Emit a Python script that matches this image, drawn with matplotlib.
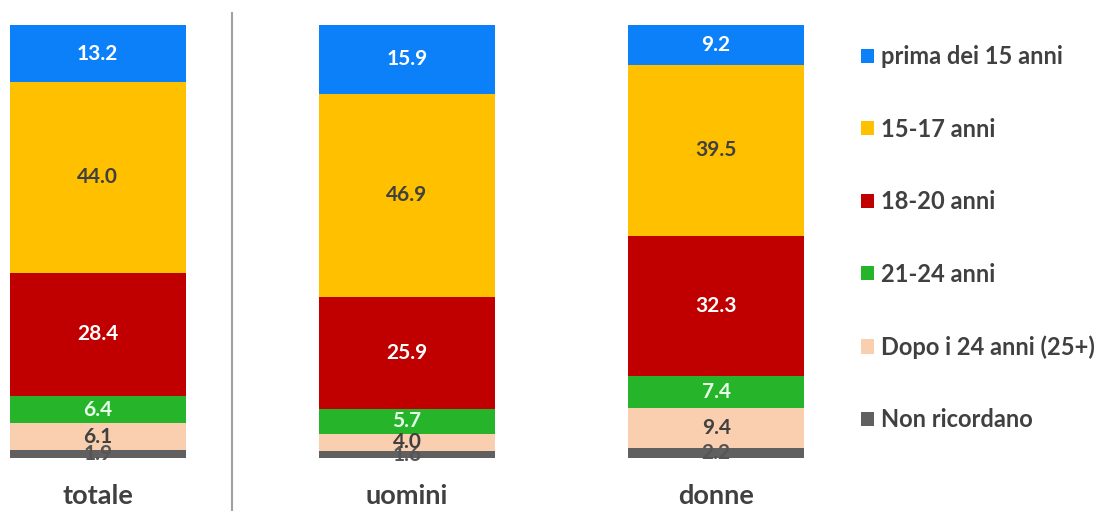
"""Stacked bars: age at first experience, total vs men vs women."""
import matplotlib.pyplot as plt
import numpy as np

plt.rcParams['font.family'] = ['Lato', 'DejaVu Sans']

groups = ['totale', 'uomini', 'donne']

# stacking order, bottom to top
series = ['Non ricordano', 'Dopo i 24 anni (25+)', '21-24 anni',
          '18-20 anni', '15-17 anni', 'prima dei 15 anni']
values = {
    'Non ricordano': [1.9, 1.6, 2.2],
    'Dopo i 24 anni (25+)': [6.1, 4.0, 9.4],
    '21-24 anni': [6.4, 5.7, 7.4],
    '18-20 anni': [28.4, 25.9, 32.3],
    '15-17 anni': [44.0, 46.9, 39.5],
    'prima dei 15 anni': [13.2, 15.9, 9.2],
}
colors = {
    'Non ricordano': '#606060',
    'Dopo i 24 anni (25+)': '#F9CFAF',
    '21-24 anni': '#25B42A',
    '18-20 anni': '#C00000',
    '15-17 anni': '#FFC000',
    'prima dei 15 anni': '#0C80F8',
}
text_colors = {
    'Non ricordano': '#555555',
    'Dopo i 24 anni (25+)': '#404040',
    '21-24 anni': '#E8FFE8',
    '18-20 anni': 'white',
    '15-17 anni': '#404040',
    'prima dei 15 anni': 'white',
}

fig = plt.figure(figsize=(11.18, 5.11), dpi=100)
ax = fig.add_axes([0.00447, 0.1037, 0.7191, 0.8474])

x = np.arange(len(groups))
bottom = np.zeros(len(groups))
handles = {}
for name in series:
    vals = np.array(values[name])
    bars = ax.bar(x, vals, width=0.568, bottom=bottom, color=colors[name],
                  linewidth=0)
    handles[name] = bars
    for xi, b, v in zip(x, bottom, vals):
        ax.text(xi, b + v / 2, f'{v:.1f}', ha='center', va='center',
                fontsize=15, fontweight='bold', color=text_colors[name])
    bottom += vals

ax.set_xlim(-0.3, 2.3)
ax.set_ylim(0, 100)
ax.set_yticks([])
ax.set_xticks(x)
ax.set_xticklabels(groups, fontsize=19.5, fontweight='bold', color='#404040')
ax.tick_params(axis='x', length=0, pad=19)
for s in ax.spines.values():
    s.set_visible(False)

# divider between the total and the two sexes
ax.plot([0.435, 0.435], [-12.5, 102.8], color='#A0A0A0', lw=1.5,
        clip_on=False)

order = series[::-1]
fig.legend([handles[n] for n in order], order, loc='upper left',
           bbox_to_anchor=(0.770, 0.912), frameon=False,
           prop={'size': 17, 'weight': 'bold'}, labelcolor='#404040',
           handlelength=0.55, handleheight=0.55, handletextpad=0.3,
           labelspacing=2.1, borderpad=0, borderaxespad=0)

fig.savefig('out.png', dpi=100)
